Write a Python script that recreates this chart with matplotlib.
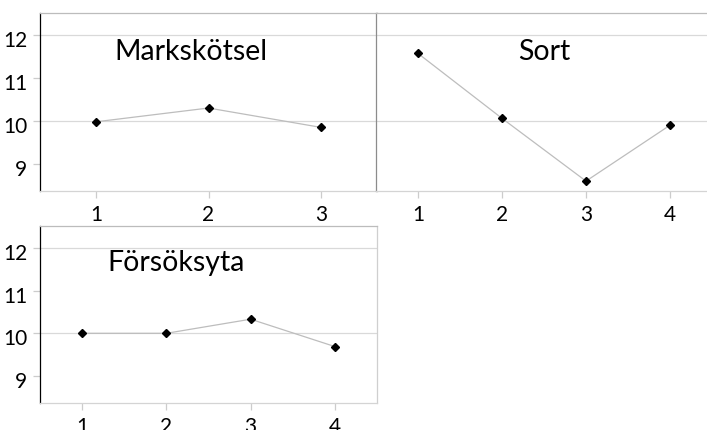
import matplotlib
matplotlib.use("Agg")
import matplotlib.pyplot as plt
import matplotlib.transforms as mtransforms

plt.rcParams['font.family'] = ['Lato', 'DejaVu Sans']

# Mean response per factor level
mark_levels = [1, 2, 3]
mark_values = [9.98, 10.30, 9.85]

sort_levels = [1, 2, 3, 4]
sort_values = [11.57, 10.06, 8.60, 9.90]

yta_levels = [1, 2, 3, 4]
yta_values = [10.00, 10.00, 10.33, 9.69]

y_ticks = [9, 10, 11, 12]
grid_values = [10, 12]

W, H = 707, 430
fig = plt.figure(figsize=(W / 100, H / 100), dpi=100)


def px_rect(x0, y0, x1, y1):
    return [x0 / W, 1 - y1 / H, (x1 - x0) / W, (y1 - y0) / H]


def style_axes(ax, levels, xlim, show_y=True):
    ax.set_xlim(*xlim)
    ax.set_ylim(8.37, 12.51)
    ax.set_xticks(levels)
    ax.set_xticklabels([str(v) for v in levels])
    for v in grid_values:
        ax.axhline(v, color='#d9d9d9', lw=0.9, zorder=0)
    ax.spines['top'].set_color('#bcbcbc')
    ax.spines['right'].set_color('#cfcfcf')
    ax.spines['bottom'].set_color('#d4d4d4')
    ax.spines['left'].set_color('black')
    for s in ax.spines.values():
        s.set_linewidth(0.9)
    ax.tick_params(axis='x', length=5, width=0.9, color='#cccccc',
                   labelsize=15, pad=5, labelcolor='black')
    if show_y:
        ax.set_yticks(y_ticks)
        ax.set_yticklabels([str(v) for v in y_ticks])
        ax.tick_params(axis='y', length=5, width=0.9, color='#cccccc',
                       labelsize=15, pad=4, labelcolor='black')
        shift = mtransforms.ScaledTranslation(0, -4 / 100, fig.dpi_scale_trans)
        for lab in ax.get_yticklabels():
            lab.set_transform(lab.get_transform() + shift)
    else:
        ax.set_yticks([])


def draw_series(ax, xs, ys):
    ax.plot(xs, ys, color='#bdbdbd', lw=0.9, zorder=2)
    ax.plot(xs, ys, ls='none', marker='D', ms=3.6, color='black', zorder=3)


ax1 = fig.add_axes(px_rect(40, 13, 377, 191))
style_axes(ax1, mark_levels, (0.5, 3.5))
draw_series(ax1, mark_levels, mark_values)
ax1.spines['right'].set_color('#8c8c8c')
ax1.text(0.447, 0.78, 'Markskötsel', fontsize=20.5, ha='center', va='center',
         transform=ax1.transAxes)

ax2 = fig.add_axes(px_rect(376, 13, 712, 191))
style_axes(ax2, sort_levels, (0.5, 4.5), show_y=False)
draw_series(ax2, sort_levels, sort_values)
ax2.spines['left'].set_color('#8c8c8c')
ax2.text(0.5, 0.78, 'Sort', fontsize=20.5, ha='center', va='center',
         transform=ax2.transAxes)

ax3 = fig.add_axes(px_rect(40, 226, 377, 403))
style_axes(ax3, yta_levels, (0.5, 4.5))
draw_series(ax3, yta_levels, yta_values)
ax3.text(0.404, 0.79, 'Försöksyta', fontsize=20.5, ha='center', va='center',
         transform=ax3.transAxes)
# the third category tick on the lower panel is drawn in black
xt = ax3.get_xticklines()
xt[4].set_color('black')

fig.savefig('out.png', dpi=100)
